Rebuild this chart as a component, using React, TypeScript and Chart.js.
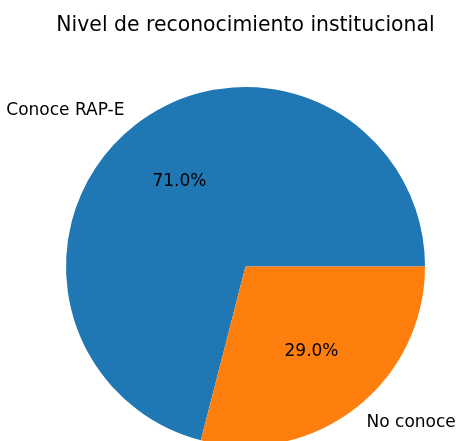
import React, { useEffect, useRef } from "react";
import { Chart, registerables } from "chart.js";

Chart.register(...registerables);

const title = "Nivel de reconocimiento institucional";
const categories = ["Conoce RAP-E", "No conoce"];
const shares = [71.0, 29.0];
const colors = ["#1f77b4", "#ff7f0e"];

const FONT = "'DejaVu Sans', sans-serif";

const labelPlugin = {
  id: "mplLabels",
  afterDatasetsDraw(chart: any) {
    const ctx = chart.ctx;
    const meta = chart.getDatasetMeta(0);
    const total = shares.reduce((a, b) => a + b, 0);
    ctx.save();
    ctx.fillStyle = "#000";
    meta.data.forEach((arc: any, i: number) => {
      const { x, y, startAngle, endAngle, outerRadius } = arc.getProps(
        ["x", "y", "startAngle", "endAngle", "outerRadius"],
        true
      );
      const mid = (startAngle + endAngle) / 2;
      const c = Math.cos(mid);
      const s = Math.sin(mid);
      ctx.font = `17px ${FONT}`;
      ctx.textBaseline = "middle";
      // outer label
      const lx = x + c * outerRadius * 1.1;
      const ly = y + s * outerRadius * 1.1;
      ctx.textAlign = c < 0 ? "right" : "left";
      ctx.fillText(categories[i], lx, ly);
      // percent
      const px = x + c * outerRadius * 0.6;
      const py = y + s * outerRadius * 0.6;
      ctx.textAlign = "center";
      ctx.fillText(((shares[i] / total) * 100).toFixed(1) + "%", px, py);
    });
    // title
    ctx.font = `20.4px ${FONT}`;
    ctx.textAlign = "center";
    ctx.textBaseline = "alphabetic";
    ctx.fillText(title, 245.5, 31);
    ctx.restore();
  },
};

export default function App() {
  const ref = useRef<HTMLCanvasElement | null>(null);
  useEffect(() => {
    document.body.style.margin = "0";
    document.body.style.overflow = "hidden";
    const total = shares.reduce((a, b) => a + b, 0);
    const chart = new Chart(ref.current as HTMLCanvasElement, {
      type: "pie",
      data: {
        labels: categories,
        datasets: [
          {
            data: shares,
            backgroundColor: colors,
            borderWidth: 0,
            clip: false as any,
          },
        ],
      },
      options: {
        animation: false,
        responsive: false,
        maintainAspectRatio: false,
        devicePixelRatio: 1,
        rotation: 90 + (shares[1] / total) * 360,
        radius: 179.5,
        layout: { padding: { left: 35, right: 0, top: 92, bottom: 0 } },
        plugins: {
          legend: { display: false },
          tooltip: { enabled: false },
          title: { display: false },
        },
      },
      plugins: [labelPlugin],
    });
    return () => chart.destroy();
  }, []);
  return (
    <div style={{ position: "fixed", left: 0, top: 0, width: 456, height: 441, overflow: "hidden", background: "#fff" }}>
      <canvas ref={ref} width={456} height={441} style={{ display: "block", width: 456, height: 441 }} />
    </div>
  );
}
